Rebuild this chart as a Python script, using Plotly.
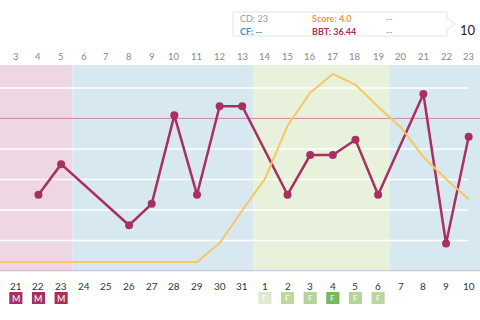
import plotly.graph_objects as go

# ---- data ----
cycle_days = list(range(3, 24))
dates = [21, 22, 23, 24, 25, 26, 27, 28, 29, 30, 31, 1, 2, 3, 4, 5, 6, 7, 8, 9, 10]
bbt = [None, 36.25, 36.35, None, None, 36.15, 36.22, 36.51, 36.25, 36.54, 36.54,
       None, 36.25, 36.38, 36.38, 36.43, 36.25, None, 36.58, 36.09, 36.44]
score_days = list(range(2, 24))
score = [0, 0, 0, 0, 0, 0, 0, 0, 0, 0, 1.2, 3.3, 5.3, 8.7, 10.8, 12.0, 11.3, 9.9, 8.6, 6.7, 5.3, 4.0]
menses_days = [3, 4, 5]
fertile_days = [14, 15, 16, 17, 18, 19]
fertile_colors = ["#dfe9cf", "#bcd9a0", "#b4d398", "#7ab85a", "#b4d59a", "#b8d69e"]
phases = [(2.3, 5.5, "#eed6e2"), (5.5, 13.5, "#d8e8f0"), (13.5, 19.5, "#e7f1db"), (19.5, 23.5, "#d8e8f0")]
grid_vals = [36.1, 36.2, 36.3, 36.4, 36.6]
coverline = 36.50

W, H = 480, 320
def py(pix):
    return (H - pix) / H

fig = go.Figure()

fig.add_trace(go.Scatter(x=score_days, y=score, mode="lines", yaxis="y2",
                         line=dict(color="#f6c862", width=2), hoverinfo="skip"))
pts = [(d, v) for d, v in zip(cycle_days, bbt) if v is not None]
fig.add_trace(go.Scatter(x=[p[0] for p in pts], y=[p[1] for p in pts], mode="lines+markers",
                         line=dict(color="#a8305f", width=2.5),
                         marker=dict(color="#a8305f", size=8), hoverinfo="skip"))

shapes = []
for x0, x1, c in phases:
    shapes.append(dict(type="rect", xref="x", yref="paper", x0=x0, x1=x1,
                       y0=py(271.5), y1=py(65), fillcolor=c, line_width=0, layer="below"))
for g in grid_vals:
    shapes.append(dict(type="line", xref="paper", yref="y", x0=0, x1=0.975, y0=g, y1=g,
                       line=dict(color="white", width=1.5), layer="below"))
shapes.append(dict(type="line", xref="paper", yref="y", x0=0, x1=1, y0=coverline, y1=coverline,
                   line=dict(color="#c98ba6", width=1), layer="below"))
shapes.append(dict(type="line", xref="paper", yref="y", x0=0, x1=1, y0=36.0, y1=36.0,
                   line=dict(color="#cbb6d6", width=1.5), layer="below"))

annotations = []
def ann(x, y, text, size, color, xref="x", xanchor="center"):
    annotations.append(dict(x=x, y=y, xref=xref, yref="paper", text=text, showarrow=False,
                            xanchor=xanchor, yanchor="middle",
                            font=dict(size=size, color=color, family="Lato")))

for d in cycle_days:
    ann(d, py(57), str(d), 9.5, "#888")
for d, dt in zip(cycle_days, dates):
    ann(d, py(286), str(dt), 10, "#333")
for d in menses_days:
    shapes.append(dict(type="rect", xref="x", yref="paper", x0=d - 0.29, x1=d + 0.29,
                       y0=py(304), y1=py(292), fillcolor="#a8305f", line_width=0, layer="below"))
    ann(d, py(298), "M", 9, "white")
for d, c in zip(fertile_days, fertile_colors):
    shapes.append(dict(type="rect", xref="x", yref="paper", x0=d - 0.29, x1=d + 0.29,
                       y0=py(304), y1=py(292), fillcolor=c, line_width=0, layer="below"))
    ann(d, py(298), "F", 8, "white")

# tooltip box
shapes.append(dict(type="rect", xref="paper", yref="paper", x0=233 / W, x1=447 / W,
                   y0=py(36), y1=py(12), fillcolor="white", line=dict(color="#e3e3e3", width=1)))
shapes.append(dict(type="path", xref="paper", yref="paper",
                   path=f"M {447/W} {py(18)} L {455/W} {py(24)} L {447/W} {py(30)}",
                   fillcolor="white", line=dict(color="#e3e3e3", width=1)))
tt = [("CD: 23", 238, 19, "#9a9a9a", False), ("Score: 4.0", 310, 19, "#f09a3a", True),
      ("--", 384, 19, "#999", False),
      ("CF: --", 238, 31, "#3f8fc4", True), ("BBT: 36.44", 310, 31, "#a8305f", True),
      ("--", 384, 31, "#999", False)]
for t, x, y, c, b in tt:
    ann(x / W, py(y), f"<b>{t}</b>" if b else t, 9, c, xref="paper", xanchor="left")
ann(478 / W, py(30), "10", 13, "#222", xref="paper", xanchor="right")

fig.update_layout(
    width=W, height=H, margin=dict(l=0, r=0, t=0, b=0),
    paper_bgcolor="white", plot_bgcolor="white", showlegend=False,
    xaxis=dict(range=[2.3, 23.5], visible=False, showgrid=False, zeroline=False),
    yaxis=dict(range=[36.0, 36.675], domain=[py(271), py(65)], visible=False,
               showgrid=False, zeroline=False),
    yaxis2=dict(range=[-0.574, 12.568], overlaying="y", visible=False,
                showgrid=False, zeroline=False),
    shapes=shapes, annotations=annotations,
)
fig.write_html("out.html")
